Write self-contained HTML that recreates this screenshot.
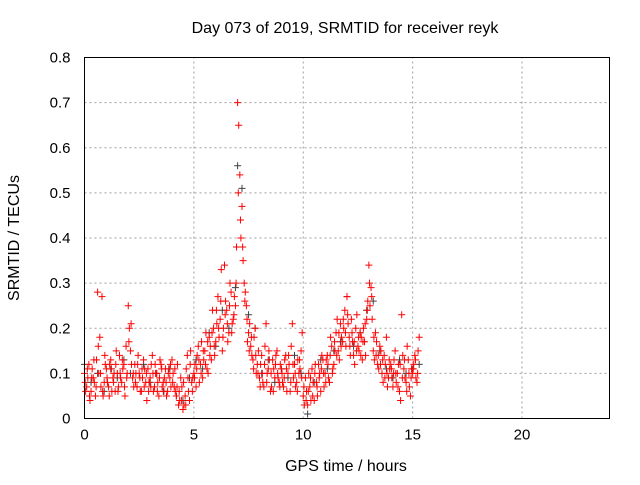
<!DOCTYPE html>
<html><head><meta charset="utf-8">
<style>
body{margin:0;background:#fff;}
svg text{font-family:"Liberation Sans",sans-serif;font-size:15px;fill:#000;}
svg text.big{font-size:16px;}
</style></head>
<body>
<svg id="chart" width="640" height="480">
<text class="big" x="345" y="33" text-anchor="middle">Day 073 of 2019, SRMTID for receiver reyk</text>
<text class="big" x="346" y="471" text-anchor="middle">GPS time / hours</text>
<text class="big" transform="translate(19,238) rotate(-90)" text-anchor="middle">SRMTID / TECUs</text>
<g id="grid"></g>
<g id="gray"></g>
<g id="red"></g>
<rect x="84.5" y="57.5" width="525" height="361" fill="none" stroke="#000"/>
</svg>
<script>
const xTicks=[0,5,10,15,20];
const yTicks=[0,0.1,0.2,0.3,0.4,0.5,0.6,0.7,0.8];
const yTickLabels=["0","0.1","0.2","0.3","0.4","0.5","0.6","0.7","0.8"];
const redTimesA=[0,0.1,0.2,0.3,0.4,0.5,0.6,0.7,0.8,0.9,1,1.1,1.2,1.3,1.4,1.5,1.6,1.7,1.8,1.9,2,2.1,2.2,2.3,2.4,2.5,2.6,2.7,2.8,2.9,3,3.1,3.2,3.3,3.4,3.5,3.6,3.7,3.8,3.9,4,4.1,4.2,4.3,4.4,4.5,4.6,4.7,4.8,4.9,5,5.1,5.2,5.3,5.4,5.5,5.6,5.7,5.8,5.9,6,6.1,6.2,6.3,6.4,6.5,6.6,6.7,6.8,6.9,7,7.1,7.2,7.3,7.4,7.5,7.6,7.7,7.8,7.9,8,8.1,8.2,8.3,8.4,8.5,8.6,8.7,8.8,8.9,9,9.1,9.2,9.3,9.4,9.5,9.6,9.7,9.8,9.9,10,10.1,10.2,10.3,10.4,10.5,10.6,10.7,10.8,10.9,11,11.1,11.2,11.3,11.4,11.5,11.6,11.7,11.8,11.9,12,12.1,12.2,12.3,12.4,12.5,12.6,12.7,12.8,12.9,13,13.1,13.2,13.3,13.4,13.5,13.6,13.7,13.8,13.9,14,14.1,14.2,14.3,14.4,14.5,14.6,14.7,14.8,14.9,15,15.1,15.2,15.3];
const redValuesA=[0.10,0.07,0.12,0.06,0.09,0.05,0.28,0.18,0.27,0.08,0.11,0.07,0.13,0.09,0.06,0.10,0.14,0.08,0.12,0.16,0.25,0.15,0.09,0.12,0.07,0.10,0.06,0.13,0.08,0.11,0.09,0.14,0.07,0.10,0.05,0.12,0.08,0.11,0.06,0.09,0.13,0.07,0.05,0.03,0.09,0.02,0.05,0.14,0.04,0.08,0.10,0.07,0.16,0.12,0.09,0.15,0.11,0.18,0.13,0.20,0.17,0.27,0.22,0.15,0.34,0.24,0.19,0.28,0.22,0.25,0.70,0.54,0.47,0.30,0.25,0.19,0.16,0.13,0.20,0.12,0.09,0.14,0.07,0.21,0.11,0.06,0.13,0.09,0.15,0.08,0.11,0.07,0.14,0.10,0.06,0.21,0.12,0.08,0.10,0.15,0.05,0.09,0.03,0.07,0.11,0.04,0.08,0.12,0.06,0.13,0.10,0.14,0.08,0.16,0.12,0.19,0.15,0.21,0.17,0.24,0.27,0.18,0.22,0.14,0.20,0.16,0.19,0.13,0.17,0.22,0.34,0.29,0.15,0.19,0.12,0.16,0.10,0.14,0.18,0.09,0.12,0.07,0.15,0.10,0.06,0.23,0.11,0.08,0.13,0.05,0.10,0.14,0.08,0.18];
const redTimesB=[0.05,0.15,0.25,0.35,0.45,0.55,0.65,0.75,0.85,0.95,1.05,1.15,1.25,1.35,1.45,1.55,1.65,1.75,1.85,1.95,2.05,2.15,2.25,2.35,2.45,2.55,2.65,2.75,2.85,2.95,3.05,3.15,3.25,3.35,3.45,3.55,3.65,3.75,3.85,3.95,4.05,4.15,4.25,4.35,4.45,4.55,4.65,4.75,4.85,4.95,5.05,5.15,5.25,5.35,5.45,5.55,5.65,5.75,5.85,5.95,6.05,6.15,6.25,6.35,6.45,6.55,6.65,6.75,6.85,6.95,7.05,7.15,7.25,7.35,7.45,7.55,7.65,7.75,7.85,7.95,8.05,8.15,8.25,8.35,8.45,8.55,8.65,8.75,8.85,8.95,9.05,9.15,9.25,9.35,9.45,9.55,9.65,9.75,9.85,9.95,10.05,10.15,10.25,10.35,10.45,10.55,10.65,10.75,10.85,10.95,11.05,11.15,11.25,11.35,11.45,11.55,11.65,11.75,11.85,11.95,12.05,12.15,12.25,12.35,12.45,12.55,12.65,12.75,12.85,12.95,13.05,13.15,13.25,13.35,13.45,13.55,13.65,13.75,13.85,13.95,14.05,14.15,14.25,14.35,14.45,14.55,14.65,14.75,14.85,14.95,15.05,15.15,15.25];
const redValuesB=[0.06,0.09,0.04,0.11,0.08,0.13,0.10,0.07,0.05,0.12,0.08,0.12,0.06,0.10,0.15,0.07,0.09,0.11,0.05,0.10,0.20,0.12,0.07,0.10,0.14,0.06,0.09,0.11,0.04,0.08,0.12,0.06,0.10,0.08,0.13,0.07,0.09,0.05,0.11,0.07,0.10,0.06,0.12,0.04,0.07,0.03,0.11,0.06,0.15,0.09,0.12,0.14,0.08,0.17,0.13,0.19,0.10,0.16,0.24,0.14,0.21,0.18,0.33,0.20,0.26,0.17,0.30,0.21,0.27,0.38,0.65,0.40,0.35,0.28,0.17,0.21,0.14,0.18,0.10,0.15,0.12,0.08,0.16,0.10,0.13,0.07,0.11,0.14,0.09,0.12,0.08,0.13,0.06,0.12,0.16,0.09,0.07,0.13,0.11,0.19,0.03,0.06,0.10,0.04,0.08,0.12,0.05,0.10,0.14,0.07,0.13,0.09,0.18,0.11,0.15,0.22,0.13,0.18,0.20,0.16,0.21,0.14,0.17,0.12,0.23,0.15,0.18,0.20,0.14,0.26,0.25,0.22,0.13,0.17,0.11,0.15,0.08,0.12,0.07,0.11,0.09,0.13,0.08,0.12,0.04,0.14,0.09,0.16,0.07,0.11,0.12,0.09,0.15];
const redTimesC=[0.03,0.13,0.23,0.33,0.43,0.53,0.63,0.73,0.83,0.93,1.03,1.13,1.23,1.33,1.43,1.53,1.63,1.73,1.83,1.93,2.03,2.13,2.23,2.33,2.43,2.53,2.63,2.73,2.83,2.93,3.03,3.13,3.23,3.33,3.43,3.53,3.63,3.73,3.83,3.93,4.03,4.13,4.23,4.33,4.43,4.53,4.63,4.73,4.83,4.93,5.03,5.13,5.23,5.33,5.43,5.53,5.63,5.73,5.83,5.93,6.03,6.13,6.23,6.33,6.43,6.53,6.63,6.73,6.83,6.93,7.03,7.13,7.23,7.33,7.43,7.53,7.63,7.73,7.83,7.93,8.03,8.13,8.23,8.33,8.43,8.53,8.63,8.73,8.83,8.93,9.03,9.13,9.23,9.33,9.43,9.53,9.63,9.73,9.83,9.93,10.03,10.13,10.23,10.33,10.43,10.53,10.63,10.73,10.83,10.93,11.03,11.13,11.23,11.33,11.43,11.53,11.63,11.73,11.83,11.93,12.03,12.13,12.23,12.33,12.43,12.53,12.63,12.73,12.83,12.93,13.03,13.13,13.23,13.33,13.43,13.53,13.63,13.73,13.83,13.93,14.03,14.13,14.23,14.33,14.43,14.53,14.63,14.73,14.83,14.93,15.03,15.13,15.23];
const redValuesC=[0.08,0.11,0.05,0.09,0.13,0.07,0.16,0.10,0.06,0.14,0.09,0.05,0.11,0.08,0.12,0.06,0.10,0.13,0.07,0.09,0.17,0.21,0.10,0.08,0.12,0.09,0.11,0.07,0.10,0.06,0.07,0.10,0.12,0.06,0.09,0.11,0.06,0.08,0.10,0.12,0.08,0.11,0.07,0.06,0.04,0.08,0.03,0.09,0.12,0.06,0.09,0.11,0.13,0.10,0.15,0.12,0.17,0.14,0.19,0.16,0.24,0.20,0.26,0.18,0.23,0.21,0.25,0.19,0.23,0.30,0.50,0.44,0.38,0.26,0.22,0.15,0.18,0.11,0.14,0.10,0.07,0.10,0.12,0.08,0.15,0.10,0.06,0.12,0.10,0.07,0.10,0.09,0.11,0.14,0.08,0.12,0.10,0.06,0.13,0.09,0.07,0.04,0.06,0.09,0.05,0.10,0.07,0.09,0.11,0.10,0.08,0.12,0.14,0.10,0.17,0.14,0.19,0.16,0.22,0.19,0.23,0.16,0.19,0.17,0.15,0.18,0.14,0.17,0.21,0.24,0.30,0.27,0.18,0.14,0.14,0.12,0.13,0.09,0.10,0.13,0.11,0.10,0.10,0.07,0.12,0.09,0.13,0.06,0.10,0.09,0.11,0.13,0.10];
const grayTimes=[0,0.3,0.6,0.9,1.2,1.5,1.8,2.1,2.4,2.7,3,3.3,3.6,3.9,4.2,4.5,4.8,5.1,5.4,5.7,6,6.3,6.6,6.9,7.0,7.2,7.5,7.8,8.1,8.4,8.7,9,9.3,9.6,9.9,10.2,10.5,10.8,11.1,11.4,11.7,12,12.3,12.6,12.9,13.2,13.5,13.8,14.1,14.4,14.7,15,15.3];
const grayValues=[0.12,0.08,0.10,0.06,0.11,0.09,0.13,0.10,0.07,0.12,0.08,0.10,0.06,0.11,0.05,0.04,0.09,0.13,0.11,0.19,0.16,0.24,0.20,0.29,0.56,0.51,0.23,0.20,0.10,0.13,0.08,0.11,0.09,0.14,0.10,0.01,0.08,0.13,0.11,0.15,0.17,0.27,0.16,0.19,0.24,0.26,0.15,0.11,0.09,0.13,0.10,0.11,0.12];

const X0=84.5,X1=609.5,Y0=418.5,Y1=57.5;
function xs(t){return X0+(t/24)*(X1-X0);}
function ys(v){return Y0-(v/0.8)*(Y0-Y1);}
const NS="http://www.w3.org/2000/svg";
const grid=document.getElementById('grid');
xTicks.forEach(t=>{
  const x=xs(t);
  if(t>0){const l=document.createElementNS(NS,'line');
  l.setAttribute('x1',x);l.setAttribute('x2',x);l.setAttribute('y1',Y0);l.setAttribute('y2',Y1);
  l.setAttribute('stroke','#a0a0a0');l.setAttribute('stroke-dasharray','2,3');
  
  
  grid.appendChild(l);}
  const tk=document.createElementNS(NS,'text');
  tk.setAttribute('x',x);tk.setAttribute('y',Y0+21);tk.setAttribute('text-anchor','middle');
  tk.textContent=String(t);
  
  
  grid.appendChild(tk);
});
yTicks.forEach((v,i)=>{
  const y=ys(v);
  if(v>0&&v<0.8){const l=document.createElementNS(NS,'line');
  l.setAttribute('x1',X0);l.setAttribute('x2',X1);l.setAttribute('y1',y);l.setAttribute('y2',y);
  l.setAttribute('stroke','#a0a0a0');l.setAttribute('stroke-dasharray','2,3');
  
  
  grid.appendChild(l);}
  const tk=document.createElementNS(NS,'text');
  tk.setAttribute('x',X0-14);tk.setAttribute('y',y+5);tk.setAttribute('text-anchor','end');
  tk.textContent=yTickLabels[i];
  
  
  grid.appendChild(tk);
});
function plus(g,t,v,color){
  const x=xs(t),y=ys(v);
  const p=document.createElementNS(NS,'path');
  p.setAttribute('d',`M${x-3.5},${y}H${x+3.5}M${x},${y-3.5}V${y+3.5}`);
  p.setAttribute('stroke',color);p.setAttribute('stroke-width','1');
  
  
  g.appendChild(p);
}
const gg=document.getElementById('gray'),rg=document.getElementById('red');
grayTimes.forEach((t,i)=>plus(gg,t,grayValues[i],'#404040'));
redTimesA.forEach((t,i)=>plus(rg,t,redValuesA[i],'#ff0000'));
redTimesB.forEach((t,i)=>plus(rg,t,redValuesB[i],'#ff0000'));
redTimesC.forEach((t,i)=>plus(rg,t,redValuesC[i],'#ff0000'));
</script>
</body></html>
